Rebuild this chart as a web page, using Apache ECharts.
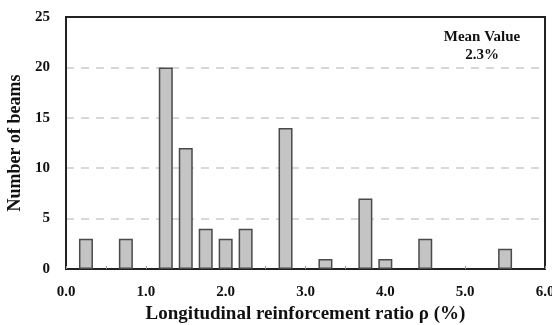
<!DOCTYPE html>
<html><head><meta charset="utf-8">
<script src="https://cdn.jsdelivr.net/npm/echarts@6/dist/echarts.min.js"></script>
<style>html,body{margin:0;padding:0;background:#fff}#c{width:552px;height:325px}</style>
</head><body><div id="c"></div>
<script>
const ratios = [0.25, 0.75, 1.25, 1.5, 1.75, 2.0, 2.25, 2.75, 3.25, 3.75, 4.0, 4.5, 5.5];
const counts = [3, 3, 20, 12, 4, 3, 4, 14, 1, 7, 1, 3, 2];
const xLabel = 'Longitudinal reinforcement ratio ρ (%)';
const yLabel = 'Number of beams';
const noteLines = ['Mean Value', '2.3%'];

const font = '"Liberation Serif", "Times New Roman", serif';
const chart = echarts.init(document.getElementById('c'), null, {renderer: 'canvas'});
chart.setOption({
  animation: false,
  grid: {left: 66, right: 7, top: 17, bottom: 56, outerBoundsMode: 'none', containLabel: false, show: true, borderColor: '#222', borderWidth: 2, backgroundColor: 'transparent'},
  xAxis: {
    type: 'value', min: 0, max: 6, interval: 0.5,
    name: xLabel, nameLocation: 'middle', nameGap: 35,
    nameTextStyle: {fontFamily: font, fontWeight: 'bold', fontSize: 19, color: '#111'},
    axisLine: {show: true, lineStyle: {color: '#222', width: 2}},
    axisTick: {show: true, inside: true, length: 3, lineStyle: {color: '#999'}},
    axisLabel: {fontFamily: font, fontWeight: 'bold', fontSize: 15, color: '#111', margin: 16,
      formatter: v => (Math.abs(v - Math.round(v)) < 1e-9 ? v.toFixed(1) : '')},
    splitLine: {show: false}
  },
  yAxis: {
    type: 'value', min: 0, max: 25, interval: 5,
    name: yLabel, nameLocation: 'middle', nameGap: 42,
    nameTextStyle: {fontFamily: font, fontWeight: 'bold', fontSize: 18, color: '#111'},
    axisLine: {show: true, lineStyle: {color: '#222', width: 2}},
    axisTick: {show: false},
    axisLabel: {fontFamily: font, fontWeight: 'bold', fontSize: 15, color: '#111', margin: 16},
    splitLine: {show: true, showMinLine: false, showMaxLine: false, lineStyle: {color: '#ccc', type: [8, 7], width: 1.5}}
  },
  series: [{
    type: 'bar', barWidth: 14,
    data: ratios.map((r, i) => [r, counts[i]]),
    itemStyle: {color: '#c4c4c4', borderColor: '#4a4a4a', borderWidth: 1.5}
  }],
  graphic: [{
    type: 'text', x: 482, y: 28,
    style: {text: noteLines.join('\n'), align: 'center', verticalAlign: 'top', fontFamily: font, fontWeight: 'bold', fontSize: 15, lineHeight: 18, fill: '#111'}
  }]
});
</script></body></html>
